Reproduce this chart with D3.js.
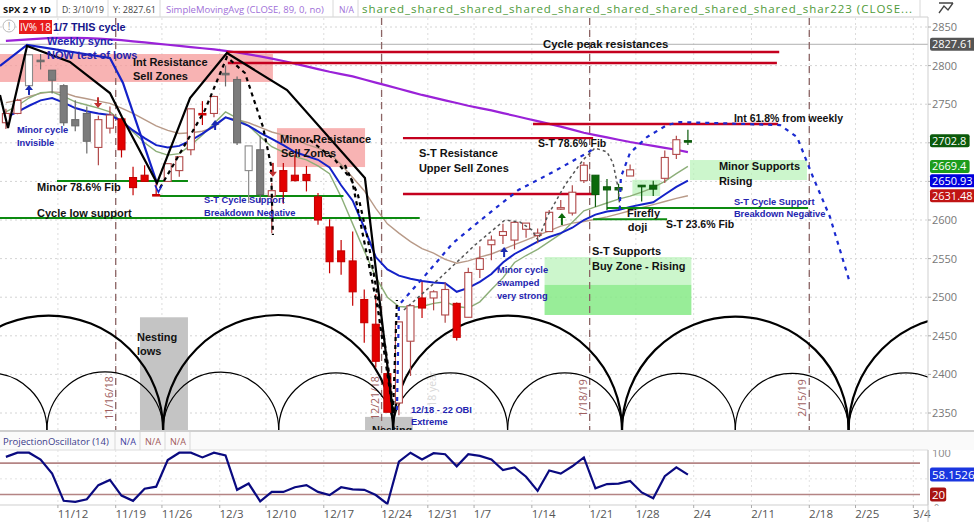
<!DOCTYPE html>
<html><head><meta charset="utf-8">
<script src="https://cdn.jsdelivr.net/npm/d3@7"></script>
<style>body{margin:0;background:#fff}svg{display:block}</style>
</head><body><div id="chart"></div>
<script>
// ---------------- DATA ----------------
const dates = ["11/5","11/6","11/7","11/8","11/9","11/12","11/13","11/14","11/15","11/16","11/19","11/20","11/21","11/23","11/26","11/27","11/28","11/29","11/30","12/3","12/4","12/6","12/7","12/10","12/11","12/12","12/13","12/14","12/17","12/18","12/19","12/20","12/21","12/24","12/26","12/27","12/28","12/31","1/2","1/3","1/4","1/7","1/8","1/9","1/10","1/11","1/14","1/15","1/16","1/17","1/18","1/22","1/23","1/24","1/25","1/28","1/29","1/30","1/31","2/1"];
const firstIndex = -5; // 11/12 = day 0
const opens  = [2726,2738,2774,2806,2794,2774,2730,2738,2694,2719,2731,2655,2658,2633,2650,2664,2691,2737,2738,2790,2782,2664,2691,2631,2664,2658,2659,2630,2591,2560,2547,2497,2465,2401,2363,2443,2499,2499,2477,2492,2474,2536,2568,2580,2574,2588,2580,2585,2615,2609,2651,2658,2643,2639,2657,2645,2645,2654,2685,2702];
const highs  = [2744,2757,2815,2815,2794,2776,2755,2747,2735,2747,2733,2669,2671,2648,2674,2683,2744,2754,2761,2800,2786,2696,2709,2648,2674,2685,2670,2635,2601,2574,2585,2510,2504,2410,2468,2489,2520,2509,2519,2493,2538,2566,2580,2595,2598,2596,2589,2613,2626,2645,2675,2658,2653,2647,2672,2645,2651,2690,2709,2717];
const lows   = [2718,2737,2774,2795,2764,2722,2715,2686,2671,2712,2681,2632,2650,2631,2650,2656,2684,2723,2733,2773,2697,2622,2623,2583,2621,2650,2637,2594,2531,2529,2489,2441,2409,2351,2347,2398,2473,2483,2467,2444,2474,2525,2548,2569,2562,2577,2570,2585,2613,2606,2648,2617,2613,2627,2657,2624,2631,2648,2679,2697];
const closes = [2738,2755,2814,2807,2781,2726,2722,2702,2730,2736,2691,2642,2650,2633,2673,2682,2744,2738,2760,2790,2700,2696,2633,2638,2637,2651,2651,2600,2546,2546,2507,2467,2417,2351,2468,2489,2486,2507,2510,2448,2532,2550,2574,2585,2597,2596,2583,2610,2616,2636,2671,2633,2639,2642,2665,2644,2640,2681,2704,2702.8];
const candleColor = ["h","h","gh","g","g","g","g","g","h","h","r","r","r","r","h","h","h","r","h","g","g","gh","g","h","r","r","r","r","r","r","r","r","r","r","h","h","r","h","h","r","h","h","h","h","h","h","h","h","h","h","h","G","G","G","h","G","G","h","h","G"];
const sma89  = [2832,2833,2834,2835,2836,2836,2836,2835.5,2835,2834,2833,2831.5,2830,2828.5,2827,2825.5,2824,2822.5,2821,2819,2817,2814.5,2812,2809,2806,2802.5,2799,2795.5,2792,2789,2786,2782,2778,2774,2770,2766,2762,2758.5,2755,2751.5,2748,2745,2742,2738.5,2735,2731.5,2728,2724.5,2721,2717,2713,2710,2707,2704,2701,2698.5,2696,2693.5,2691,2688];
const maBlue = [2733,2740,2748,2755,2758,2752,2745,2741,2738,2736,2728,2716,2706,2697,2694,2696,2703,2712,2722,2733,2728,2722,2713,2705,2697,2688,2683,2678,2668,2645,2625,2590,2552,2536,2528,2524,2521,2519,2518,2507,2512,2520,2530,2545,2556,2564,2572,2578,2583,2590,2600,2607,2611,2613,2617,2620,2623,2633,2643,2650.93];
const maGreen= [2740,2748,2758,2765,2766,2760,2753,2749,2745,2740,2728,2714,2700,2689,2684,2686,2697,2710,2725,2740,2732,2722,2708,2695,2688,2682,2678,2670,2660,2630,2595,2560,2526,2500,2488,2487,2488,2492,2494,2488,2486,2494,2510,2525,2545,2554,2562,2572,2582,2597,2612,2617,2622,2627,2631,2636,2642,2650,2660,2669.4];
const maTan  = [2752,2755,2760,2764,2766,2765,2760,2757,2754,2751,2745,2738,2730,2722,2716,2712,2713,2715,2720,2733,2730,2726,2720,2714,2710,2705,2698,2693,2687,2672,2655,2638,2615,2595,2583,2572,2563,2557,2549,2544,2547,2552,2556,2562,2568,2574,2580,2586,2592,2596,2598,2601,2604,2608,2612,2616,2620,2624,2628,2631.48];
const projOsc= [92,100,100,87,60,8,6,11,38,48,18,8,31,35,86,100,100,91,100,95,29,41,7,25,25,34,38,25,19,34,30,29,19,2,83,100,87,99,97,74,97,94,87,67,72,54,27,66,60,74,91,32,40,41,46,24,13,55,72,58.15];

const tickLabels = ["11/12","11/19","11/26","12/3","12/10","12/17","12/24","12/31","1/7","1/14","1/21","1/28","2/4","2/11","2/18","2/25","3/4"];
const tickDays   = [0,5,9,14,18,23,28,32,36,41,46,50,55,60,65,69,74];
const priceTicks = [2350,2400,2450,2500,2550,2600,2650,2700,2750,2800,2850];
const shownPriceLabels = [2350,2400,2450,2500,2550,2600,2750,2800,2850]; // 2650/2700 sit under the value boxes
const oscTicks = [0,100];
const eventLines = [["11/16/18",4],["12/21/18",27],["1/18/19",45],["2/15/19",64]];

// drawn annotations (day index, price)
const bigCycleLows = [-11.2,8.6,28.5,48.3,67.9,87.7];
const smallCycleLows = [-11.3,-1.45,8.6,18.6,28.5,38.4,48.3,58.1,67.9,77.8];
const pinkZones = [[-5.51,18.1,2815,2778.8],[18.45,26.07,2719,2668.6]];
const lightGreenZones = [[54.18,64.3,2677.7,2651.8],[49.2,51.6,2652,2631],[41.6,54.3,2552,2516]];
const greenZones = [[41.6,54.3,2516,2477]];
const grayZones = [[6.6,10.75,2474,2328],[26.07,30.2,2345,2328]];
const redLevels = [[14.1,61.9,2817.6],[14.2,61.7,2803.4],[40.6,61.8,2724.4],[29.35,45.8,2706],[29.35,46.1,2633.6]];
const greenLevels = [[-0.58,10.75,2650.5],[8.33,24.2,2631],[-5.51,30.8,2602.6],[47,64.4,2615.6],[45.8,52.2,2601]];
const blackPath = [[-5.51,2761.9],[-4.82,2719.2],[-3.17,2825.4],[0.54,2804.7],[4.0,2764.5],[5.04,2733.4],[8.07,2647.9],[10.93,2758],[14.12,2816.3],[19.32,2768.4],[26.06,2654.4],[28.49,2350]];
const bluePath = [[-5.51,2799.5],[-3.17,2826.7],[4.0,2809.8],[5.13,2777.5],[8.07,2647.9]];
const dashPaths = [
 [[8.33,2641.5],[12.22,2742.5],[14.12,2811.1],[15.68,2790.4],[17.24,2720.5],[17.93,2671.2],[18.1,2580.6]],
 [[21.3,2703.6],[23.47,2677.7],[24.94,2651.8],[25.8,2587],[27.19,2483.4],[28.49,2351.3]],
 [[24.33,2671.2],[25.46,2632.4],[26.32,2574.1],[27.36,2483.4],[28.05,2412.2],[28.57,2350]],
 [[28.49,2350],[28.83,2496.4]]];
const blueDotPaths = [
 [[28.83,2353.9],[29.0,2489.9],[31.08,2524.9],[33.68,2570.2],[36.62,2606.5],[39.34,2638.9],[42.33,2662.2],[45.27,2686.8],[45.96,2693.3]],
 [[48.1,2612.9],[48.2,2655.7],[48.99,2686.8],[50.46,2707.5],[52.19,2723],[53.31,2726.9],[56.17,2725.6],[61.97,2723],[63.44,2707.5],[64.82,2655.7],[66.29,2603.9],[68.02,2518.4]]];
const grayDotPath = [[29.43,2483.4],[32.55,2524.9],[35.58,2567.6],[38.17,2600],[39.47,2597.4],[40.51,2587],[41.03,2574.1],[41.9,2606.5],[43.37,2645.3],[44.92,2677.7],[45.96,2693.3],[47.0,2688.1],[47.52,2673.8],[47.95,2642.7],[48.12,2615.5]];
const arrows = [[-3,2762,2775,"#1a2ab0"],[2.97,2759,2745,"#c03030"],[13.1,2716.6,2729.5,"#1a2ab0"],[18.1,2674,2656,"#c03030"],[38.1,2552,2565,"#1a2ab0"],[43.1,2593.5,2609,"#0a6a0a"]];
const BLK="#111", BLU="#2424b0", NAVY="#14148a";
const notes = [
 ["1/7 THIS cycle",-0.93,2844.8,NAVY,10.8],["Weekly sync",-1.44,2826.7,BLU,11],["NOW test of lows",-1.44,2808.5,BLU,11],
 ["Int Resistance",5.99,2799.5,BLK,11],["Sell Zones",5.99,2781.3,BLK,11],["Cycle peak resistances",41.46,2822.8,BLK,11.4],
 ["Minor cycle",-4.04,2712.7,BLU,9.3],["Invisible",-4.04,2695.9,BLU,9.3],["Minor 78.6% Fib",-2.31,2637.6,BLK,11],
 ["Cycle low support",-2.31,2603.9,BLK,11],["S-T Cycle Support",12.14,2622,BLU,9.3],["Breakdown Negative",12.14,2605.2,BLU,9.3],
 ["Minor Resistance",18.71,2699.7,BLK,11],["Sell Zones",18.8,2681.6,BLK,11],["S-T Resistance",30.73,2681.6,BLK,11],
 ["Upper Sell Zones",30.73,2662.2,BLK,11],["S-T 78.6% Fib",41.03,2694.6,BLK,10.5],["Int 61.8% from weekly",57.98,2727,BLK,10.5],
 ["Minor Supports",56.68,2664.8,BLK,11],["Rising",56.68,2645.3,BLK,11],["S-T Cycle Support",57.98,2619.4,BLU,9.3],
 ["Breakdown Negative",57.98,2603.9,BLU,9.3],["Firefly",48.73,2603.9,BLK,11],["doji",48.8,2585.8,BLK,11],
 ["S-T 23.6% Fib",52.1,2589.6,BLK,10.5],["S-T Supports",45.7,2554.7,BLK,11],["Buy Zone - Rising",45.7,2535.2,BLK,11],
 ["Minor cycle",37.48,2531.3,BLU,9.3],["swamped",37.48,2514.5,BLU,9.3],["very strong",37.48,2497.7,BLU,9.3],
 ["Nesting",6.34,2443.3,BLK,11],["lows",6.34,2425.1,BLK,11],["12/18 - 22 OBI",30.04,2350,BLU,9.3],["Extreme",30.04,2334.5,BLU,9.3],
 ["Nesting",26.67,2322.5,BLK,11]];
const valueBoxes = [[2827.61,"2827.61","#555555"],[2702.8,"2702.8","#0b5a0b"],[2669.4,"2669.4","#1c9c1c"],[2650.93,"2650.93","#0000dd"],[2631.48,"2631.48","#c01414"]];
const headerItems = [["SPX 2 Y 1D",3,48,"#111",true],["D: 3/10/19",62,42,"#444",false],["Y: 2827.61",113,43,"#444",false],["SimpleMovingAvg (CLOSE, 89, 0, no)",166,158,"#a070d8",false],["N/A",339,15,"#a070d8",false],["shared_".repeat(9)+"shar223 (CLOSE...",362,550,"#4e9a38",false]];
const oscHeader = [["ProjectionOscillator (14)",3,106,"#3a3a8a",false],["N/A",120,16,"#3a3aa0",false],["N/A",145,16,"#a05858",false],["N/A",170,16,"#a05858",false]];

// ---------------- CHART ----------------
const W=974,H=522, PR=928, TOP=18, BOT=430, OT=450, OB=505;
const svg=d3.select("#chart").append("svg").attr("width",W).attr("height",H).style("font-family","'Open Sans',sans-serif");
const x=d3.scaleLinear().domain([-5.51,74.77]).range([0,PR]);
const y=d3.scaleLinear().domain([2328,2861.66]).range([BOT,TOP]);
const yo=d3.scaleLinear().domain([0,100]).range([OB,452.7]);
const step=x(1)-x(0);
const candles=dates.map((d,k)=>({d,i:k+firstIndex,o:opens[k],h:highs[k],l:lows[k],c:closes[k],s:candleColor[k]}));
const idx=d=>d.i;

// fit a text into a given width: shrink font if too wide, else pad with letter spacing
function fitText(sel,base){
  sel.each(function(d){const t=d3.select(this);t.attr("font-size",base);const w=this.getComputedTextLength();
    if(w>d[2]) t.attr("font-size",base*d[2]/w);
    else t.attr("letter-spacing",((d[2]-w)/Math.max(1,d[0].length-1)).toFixed(3));});
}

svg.append("defs").append("clipPath").attr("id","main").append("rect").attr("x",0).attr("y",TOP).attr("width",PR).attr("height",BOT-TOP);
svg.append("defs").append("clipPath").attr("id","osc").append("rect").attr("x",0).attr("y",OT).attr("width",PR).attr("height",OB-OT);
svg.append("defs").append("clipPath").attr("id","oscax").append("rect").attr("x",PR).attr("y",OT).attr("width",W-PR).attr("height",OB-OT+1);

// grid main
const g=svg.append("g").attr("clip-path","url(#main)");
g.selectAll(".hg").data(priceTicks).join("line").attr("x1",0).attr("x2",PR).attr("y1",d=>y(d)).attr("y2",d=>y(d)).attr("stroke","#d4d4d4").attr("stroke-dasharray","2,3");
g.selectAll(".vg").data(tickDays).join("line").attr("x1",d=>x(d)-step/2).attr("x2",d=>x(d)-step/2).attr("y1",TOP).attr("y2",BOT).attr("stroke","#dcdcdc").attr("stroke-dasharray","2,3");

// zones
const rectZ=(arr,fill,op)=>g.selectAll(null).data(arr).join("rect").attr("x",d=>x(d[0])).attr("width",d=>x(d[1])-x(d[0])).attr("y",d=>y(d[2])).attr("height",d=>y(d[3])-y(d[2])).attr("fill",fill).attr("opacity",op);
rectZ(pinkZones,"#f59a9a",0.75);
rectZ(lightGreenZones,"#b6f2b6",0.7);
rectZ(greenZones,"#86ea86",0.85);
rectZ(grayZones,"#c4c4c4",1);

// crosshair
g.append("line").attr("x1",0).attr("x2",PR).attr("y1",y(2827.61)).attr("y2",y(2827.61)).attr("stroke","#b0b0b0").attr("stroke-width",1);

// event lines
g.selectAll(".ev").data(eventLines).join("line").attr("x1",d=>x(d[1])+step/2).attr("x2",d=>x(d[1])+step/2).attr("y1",TOP).attr("y2",BOT).attr("stroke","#8c6464").attr("stroke-width",1.3).attr("stroke-dasharray","7,5");
g.selectAll(".evt").data(eventLines).join("text").attr("transform",d=>`translate(${x(d[1])+step/2-3},${398}) rotate(-90)`).attr("text-anchor","middle").attr("font-size",10.5).attr("fill","#a06060").text(d=>d[0]);
g.append("text").attr("transform",`translate(${x(32.2)},${390}) rotate(-90)`).attr("text-anchor","middle").attr("font-size",10.5).attr("fill","#d8d8d8").text("'18 year");

// cycle arcs
function arcs(lows,w){
  const pairs=d3.pairs(lows);
  g.selectAll(null).data(pairs).join("path").attr("d",([a,b])=>{const p=d3.path();const cx=(x(a)+x(b))/2,r=(x(b)-x(a))/2;p.arc(cx,BOT,r,Math.PI,2*Math.PI);return p.toString();}).attr("fill","none").attr("stroke","#000").attr("stroke-width",w);
}
arcs(smallCycleLows,1.2);
arcs(bigCycleLows,2.2);

// moving averages
const line=(arr)=>d3.line().x((v,k)=>x(k+firstIndex)).y(v=>y(v))(arr);
g.append("path").attr("d",line(maTan)).attr("fill","none").attr("stroke","#b89a88").attr("stroke-width",1.4);
g.append("path").attr("d",line(maGreen)).attr("fill","none").attr("stroke","#8cae78").attr("stroke-width",1.4);
g.append("path").attr("d",line(maBlue)).attr("fill","none").attr("stroke","#1422c8").attr("stroke-width",2);
g.append("path").attr("d",line(sma89)).attr("fill","none").attr("stroke","#9a22d8").attr("stroke-width",2.2);

// levels
g.selectAll(null).data(redLevels).join("line").attr("x1",d=>x(d[0])).attr("x2",d=>x(d[1])).attr("y1",d=>y(d[2])).attr("y2",d=>y(d[2])).attr("stroke","#c4001e").attr("stroke-width",2.4);
g.selectAll(null).data(greenLevels).join("line").attr("x1",d=>x(d[0])).attr("x2",d=>x(d[1])).attr("y1",d=>y(d[2])).attr("y2",d=>y(d[2])).attr("stroke","#0c8a10").attr("stroke-width",2);

// candles
const sty={h:["#fff","#b04848"],r:["#e30000","#c40000"],g:["#7c7c7c","#6a6a6a"],gh:["#fff","#8a8a8a"],G:["#0b6a0b","#0b5a0b"]};
const cg=g.append("g");
cg.selectAll(".wick").data(candles).join("line").attr("x1",d=>x(idx(d))).attr("x2",d=>x(idx(d))).attr("y1",d=>y(d.h)).attr("y2",d=>y(d.l)).attr("stroke",d=>sty[d.s][1]).attr("stroke-width",1.2);
cg.selectAll(".body").data(candles).join("rect").attr("x",d=>x(idx(d))-3.5).attr("width",7)
  .attr("y",d=>y(Math.max(d.o,d.c))).attr("height",d=>Math.max(1.5,Math.abs(y(d.o)-y(d.c))))
  .attr("fill",d=>sty[d.s][0]).attr("stroke",d=>sty[d.s][1]).attr("stroke-width",1.1);

// projection lines
const pl=d3.line().x(d=>x(d[0])).y(d=>y(d[1]));
g.append("path").attr("d",pl(bluePath)).attr("fill","none").attr("stroke","#1422c8").attr("stroke-width",2.2);
g.append("path").attr("d",pl(blackPath)).attr("fill","none").attr("stroke","#000").attr("stroke-width",2.2);
g.selectAll(null).data(dashPaths).join("path").attr("d",pl).attr("fill","none").attr("stroke","#000").attr("stroke-width",2.2).attr("stroke-dasharray","4,4");
g.append("path").attr("d",pl(grayDotPath)).attr("fill","none").attr("stroke","#555").attr("stroke-width",1.5).attr("stroke-dasharray","3,3");
g.selectAll(null).data(blueDotPaths).join("path").attr("d",pl).attr("fill","none").attr("stroke","#1a2ad0").attr("stroke-width",2.2).attr("stroke-dasharray","4,5");

// arrows
arrows.forEach(([i,p0,p1,col])=>{
  const X=x(i),y0=y(p0),y1=y(p1),dir=y1<y0?1:-1;
  g.append("line").attr("x1",X).attr("x2",X).attr("y1",y0).attr("y2",y1+dir*4).attr("stroke",col).attr("stroke-width",2);
  g.append("path").attr("d",`M${X-4},${y1+dir*5}L${X+4},${y1+dir*5}L${X},${y1}Z`).attr("fill",col);
});
g.append("path").attr("d",`M${x(7.9)},${y(2645)}L${x(8.2)},${y(2636)}L${x(8.5)},${y(2645)}`).attr("fill","none").attr("stroke","#1422c8").attr("stroke-width",1.6);

// notes
g.selectAll(".note").data(notes).join("text").attr("x",d=>x(d[1])).attr("y",d=>y(d[2])).attr("fill",d=>d[3]).attr("font-size",d=>d[4]).attr("font-weight","bold").attr("font-family","'Liberation Sans',Arial,sans-serif").text(d=>d[0]);

// IV box
svg.append("circle").attr("cx",9).attr("cy",26).attr("r",6).attr("fill","#fff").attr("stroke","#bbb");
svg.append("text").attr("x",9).attr("y",30).attr("text-anchor","middle").attr("font-size",10).attr("fill","#999").text("!");
svg.append("rect").attr("x",19).attr("y",20).attr("width",33).attr("height",14).attr("fill","#e81c1c");
svg.append("text").attr("x",35.5).attr("y",31).attr("text-anchor","middle").attr("font-size",10).attr("fill","#fff").text("IV% 18");

// header
svg.append("rect").attr("x",0).attr("y",0).attr("width",W).attr("height",17).attr("fill","#fff");
svg.append("line").attr("x1",0).attr("x2",PR).attr("y1",17).attr("y2",17).attr("stroke","#cfcfcf");
svg.selectAll(".hd").data(headerItems).join("text").attr("x",d=>d[1]).attr("y",12.5).attr("fill",d=>d[3])
  .attr("font-weight",d=>d[4]?"bold":"normal").text(d=>d[0]).call(fitText,11.5);
svg.selectAll(".hs").data([57,108,160,333,358,920]).join("line").attr("x1",d=>d).attr("x2",d=>d).attr("y1",0).attr("y2",17).attr("stroke","#d8d8d8");
svg.append("path").attr("d","M939,13 L944,6 L948,10 L953,3 M939,3 L953,3").attr("fill","none").attr("stroke","#444").attr("stroke-width",1.3);

// right axis main
svg.append("line").attr("x1",PR).attr("x2",PR).attr("y1",17).attr("y2",OB).attr("stroke","#cfcfcf");
svg.selectAll(".ptk").data(priceTicks).join("line").attr("x1",PR).attr("x2",PR+3).attr("y1",d=>y(d)).attr("y2",d=>y(d)).attr("stroke","#aaa");
svg.selectAll(".pt").data(shownPriceLabels).join("text").attr("x",932).attr("y",d=>y(d)+4).attr("font-size",11).attr("fill","#777").text(d=>d);
const vb=svg.selectAll(".vb").data(valueBoxes).join("g").attr("transform",d=>`translate(930,${y(d[0])-6.5})`);
vb.append("rect").attr("width",d=>d[1].length*6.1+3).attr("height",13).attr("rx",2).attr("fill",d=>d[2]);
vb.append("text").attr("x",2).attr("y",10.5).attr("font-size",11).attr("fill","#fff").text(d=>d[1]);

// osc header row
svg.append("rect").attr("x",0).attr("y",BOT).attr("width",W).attr("height",OT-BOT).attr("fill","#fafafa");
svg.append("line").attr("x1",0).attr("x2",W).attr("y1",BOT+1).attr("y2",BOT+1).attr("stroke","#cfcfcf").attr("stroke-width",2);
svg.append("line").attr("x1",0).attr("x2",PR).attr("y1",OT).attr("y2",OT).attr("stroke","#dedede");
svg.selectAll(".oh").data(oscHeader).join("text").attr("x",d=>d[1]).attr("y",445).attr("fill",d=>d[3]).text(d=>d[0]).call(fitText,11);
svg.selectAll(".os").data([115,140,165,190]).join("line").attr("x1",d=>d).attr("x2",d=>d).attr("y1",BOT+2).attr("y2",OT).attr("stroke","#d8d8d8");

// osc panel
const og=svg.append("g").attr("clip-path","url(#osc)");
og.selectAll(null).data(tickDays).join("line").attr("x1",d=>x(d)-step/2).attr("x2",d=>x(d)-step/2).attr("y1",OT).attr("y2",OB).attr("stroke","#e2e2e2").attr("stroke-dasharray","2,3");
og.append("line").attr("x1",0).attr("x2",PR).attr("y1",yo(50)).attr("y2",yo(50)).attr("stroke","#e2e2e2").attr("stroke-dasharray","2,3");
og.selectAll(null).data([80,20]).join("line").attr("x1",0).attr("x2",PR-8).attr("y1",d=>yo(d)).attr("y2",d=>yo(d)).attr("stroke","#b48484").attr("stroke-width",1.6);
og.append("path").attr("d",d3.line().x((v,k)=>x(k+firstIndex)).y(v=>yo(v))(projOsc)).attr("fill","none").attr("stroke","#0a0a80").attr("stroke-width",2.2);
svg.append("g").attr("clip-path","url(#oscax)").selectAll(".ot").data(oscTicks).join("text").attr("x",d=>d===0?934:932).attr("y",d=>d===0?yo(d)+6:yo(d)+4).attr("font-size",d=>d===0?9:11).attr("fill","#888").text(d=>d);
const ob=[[58.1526,"58.1526","#1a36e0"],[20,"20","#a81212"]];
const obg=svg.selectAll(".ob").data(ob).join("g").attr("transform",d=>`translate(930,${yo(d[0])-7})`);
obg.append("rect").attr("width",d=>d[1].length*6.1+4).attr("height",14).attr("rx",2).attr("fill",d=>d[2]);
obg.append("text").attr("x",2).attr("y",11).attr("font-size",11.5).attr("fill","#fff").text(d=>d[1]);

// bottom axis
svg.append("line").attr("x1",0).attr("x2",PR).attr("y1",OB).attr("y2",OB).attr("stroke","#cfcfcf");
svg.selectAll(".tk").data(tickDays).join("line").attr("x1",d=>x(d)-step/2).attr("x2",d=>x(d)-step/2).attr("y1",OB).attr("y2",OB+3).attr("stroke","#aaa");
svg.selectAll(".tl").data(tickDays).join("text").attr("x",d=>x(d)-6).attr("y",518).attr("font-size",11.5).attr("fill","#555").text((d,k)=>tickLabels[k]);
svg.append("line").attr("x1",PR).attr("x2",PR).attr("y1",OT).attr("y2",H).attr("stroke","#cfcfcf");
</script></body></html>
